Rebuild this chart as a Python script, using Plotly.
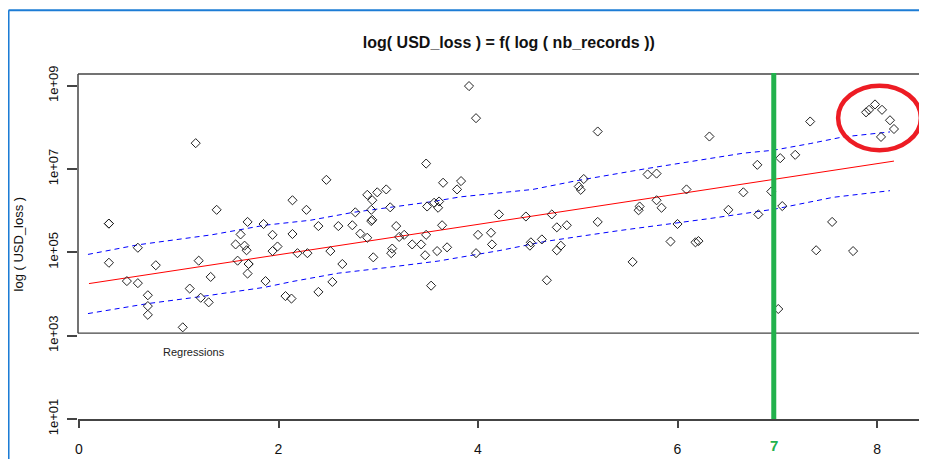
import plotly.graph_objects as go

# log10(nb_records) and log10(USD_loss) for each record
log_records = [1.17, 0.30, 0.30, 1.38, 2.14, 1.69, 1.85, 1.62, 1.94, 2.14, 0.59, 1.57, 1.66, 1.68, 1.99, 1.94,
               0.30, 0.77, 1.20, 1.59, 1.70, 1.70, 1.69, 0.48, 0.59, 1.32, 1.87, 1.11, 0.69, 1.22, 1.30, 0.69,
               0.69, 2.07, 2.13, 1.04, 3.48, 2.48, 3.65, 3.83, 3.79, 2.89, 2.99, 3.08, 2.94, 2.28, 2.77, 2.93,
               3.12, 3.49, 3.56, 3.61, 3.60, 2.94, 2.93, 2.40, 2.60, 2.74, 3.18, 3.64, 2.82, 2.89, 3.21, 3.26,
               3.48, 4.00, 4.13, 4.21, 2.19, 2.29, 2.52, 3.14, 3.13, 3.34, 3.43, 3.69, 4.14, 2.95, 3.47, 3.59,
               3.98, 2.64, 2.54, 2.40, 3.53, 5.20, 6.32, 5.70, 5.79, 5.06, 5.01, 5.03, 6.09, 4.48, 4.74, 5.79,
               5.62, 5.61, 5.84, 4.79, 4.89, 5.20, 6.00, 4.64, 4.53, 4.52, 4.83, 4.79, 5.93, 6.18, 6.21, 5.55,
               4.69, 7.33, 7.89, 7.92, 7.98, 8.05, 8.13, 8.17, 8.04, 6.80, 7.03, 7.18, 6.66, 6.94, 6.51, 6.81,
               7.05, 7.55, 7.39, 7.76, 7.01, 3.91, 3.98]
log_loss = [7.62, 5.69, 5.69, 6.02, 6.25, 5.73, 5.68, 5.43, 5.42, 5.44, 5.11, 5.19, 5.16, 5.05, 5.14, 5.03,
            4.75, 4.69, 4.80, 4.80, 4.72, 4.72, 4.49, 4.31, 4.26, 4.41, 4.31, 4.13, 3.97, 3.91, 3.80, 3.71,
            3.50, 3.95, 3.89, 3.20, 7.13, 6.74, 6.67, 6.71, 6.51, 6.38, 6.44, 6.51, 6.25, 6.02, 5.96, 6.02,
            6.08, 6.10, 6.19, 6.22, 6.07, 5.78, 5.75, 5.63, 5.63, 5.65, 5.63, 5.65, 5.45, 5.35, 5.37, 5.42,
            5.42, 5.42, 5.47, 5.91, 4.98, 4.98, 5.03, 5.09, 4.98, 5.19, 5.19, 5.12, 5.19, 4.88, 4.93, 5.03,
            4.98, 4.72, 4.29, 4.05, 4.20, 7.90, 7.78, 6.87, 6.89, 6.76, 6.58, 6.50, 6.51, 5.86, 5.91, 6.25,
            6.10, 6.01, 6.07, 5.60, 5.65, 5.73, 5.68, 5.31, 5.24, 5.16, 5.16, 5.05, 5.26, 5.24, 5.27, 4.77,
            4.33, 8.14, 8.36, 8.42, 8.55, 8.42, 8.17, 7.96, 7.77, 7.10, 7.26, 7.34, 6.44, 6.46, 6.02, 5.91,
            6.11, 5.73, 5.05, 5.03, 3.64, 8.99, 8.22]

# regression (red) and prediction band (blue dashed)
fit_x = [0.10, 8.17]
fit_y = [4.25, 7.19]
upper_x = [0.09, 0.59, 1.33, 1.86, 2.32, 2.75, 3.12, 3.55, 3.82, 4.55, 4.99, 5.69, 6.66, 6.96, 7.33, 7.66, 8.13]
upper_y = [4.95, 5.18, 5.42, 5.65, 5.77, 5.96, 6.08, 6.22, 6.33, 6.51, 6.72, 7.01, 7.38, 7.45, 7.61, 7.77, 7.89]
lower_x = [0.09, 0.69, 1.23, 1.86, 2.14, 2.60, 3.07, 3.60, 4.21, 4.67, 5.41, 6.32, 6.98, 7.56, 8.13]
lower_y = [3.53, 3.77, 3.94, 4.16, 4.30, 4.50, 4.63, 4.79, 5.04, 5.26, 5.52, 5.81, 6.04, 6.32, 6.48]

x_ticks = [0, 2, 4, 6, 8]
y_ticks = [1, 3, 5, 7, 9]
y_tick_labels = ["1e+01", "1e+03", "1e+05", "1e+07", "1e+09"]
threshold_x = 6.965
threshold_label = "7"

FR = "#444444"
GREEN = "#22b14c"
FONT = "Liberation Sans, Arial, sans-serif"

fig = go.Figure()
fig.add_trace(go.Scatter(x=upper_x, y=upper_y, mode="lines",
                         line=dict(color="blue", width=1, dash="5px,4px"), hoverinfo="skip"))
fig.add_trace(go.Scatter(x=lower_x, y=lower_y, mode="lines",
                         line=dict(color="blue", width=1, dash="5px,4px"), hoverinfo="skip"))
fig.add_trace(go.Scatter(x=fit_x, y=fit_y, mode="lines", line=dict(color="red", width=1)))
fig.add_trace(go.Scatter(x=log_records, y=log_loss, mode="markers",
                         marker=dict(symbol="diamond-open", size=7, color="#222222",
                                     line=dict(width=1, color="#222222"))))

shapes = [
    # frame
    dict(type="line", xref="paper", yref="paper", x0=0, x1=1, y0=1, y1=1, line=dict(color=FR, width=1.5)),
    dict(type="line", xref="paper", yref="paper", x0=1, x1=1, y0=0, y1=1, line=dict(color=FR, width=1.5)),
    dict(type="line", xref="paper", yref="y", x0=0, x1=0, y0=3.06, y1=9.28, line=dict(color=FR, width=1.5)),
    dict(type="line", xref="paper", yref="y", x0=0, x1=1, y0=3.06, y1=3.06, line=dict(color=FR, width=1.2)),
    # green threshold line
    dict(type="line", xref="x", yref="paper", x0=threshold_x, x1=threshold_x, y0=0, y1=1.003,
         line=dict(color=GREEN, width=5)),
    # red ellipse
    dict(type="circle", xref="x", yref="y", x0=7.61, x1=8.44, y0=7.45, y1=9.0,
         line=dict(color="#ed1c24", width=4.5)),
    # screenshot border
    dict(type="line", xref="paper", yref="paper", x0=-0.082, x1=1.01, y0=1.185, y1=1.185,
         line=dict(color="#1c7cd5", width=2)),
    dict(type="line", xref="paper", yref="paper", x0=-0.082, x1=-0.082, y0=-0.2, y1=1.185,
         line=dict(color="#1c7cd5", width=2)),
]

annotations = [
    dict(text="Regressions", x=1.153, y=2.62, xref="x", yref="y", showarrow=False,
         font=dict(size=11, color="#222", family=FONT)),
    dict(text="log ( USD_loss )", x=-0.0708, y=0.506, xref="paper", yref="paper", showarrow=False,
         xanchor="center", yanchor="middle",
         textangle=-90, font=dict(size=13, color="#111", family=FONT)),
    dict(text="<b>" + threshold_label + "</b>", x=threshold_x, y=-0.077, xref="x", yref="paper",
         showarrow=False, xanchor="center", yanchor="middle",
         font=dict(size=15, color=GREEN, family=FONT)),
]

# the page body has an 8px margin, so the figure is 8px smaller and shifted
fig.update_layout(
    width=919, height=451,
    margin=dict(l=70, r=2, t=66, b=33),
    paper_bgcolor="white", plot_bgcolor="white",
    showlegend=False,
    title=dict(text="<b>log( USD_loss ) = f( log ( nb_records ))</b>", x=0.545, xanchor="center",
               y=1 - 34 / 451, yanchor="middle", font=dict(size=16, color="#111", family=FONT)),
    font=dict(family=FONT, color="#111"),
    shapes=shapes, annotations=annotations,
    xaxis=dict(range=[-0.01, 8.481], tickvals=x_ticks, ticks="outside", ticklen=7, tickcolor=FR,
               tickwidth=1.5, showline=True, linecolor=FR, linewidth=1.5, showgrid=False,
               zeroline=False, tickfont=dict(size=14, color="#111"), ticklabelstandoff=9),
    yaxis=dict(range=[1.0, 9.28], tickvals=y_ticks, ticktext=y_tick_labels, ticks="outside",
               ticklen=10, tickcolor=FR, tickwidth=1.5, showline=False, showgrid=False,
               zeroline=False, tickangle=-90, tickfont=dict(size=13, color="#111"),
               ticklabelstandoff=4),
)

fig.write_html("out.html")
